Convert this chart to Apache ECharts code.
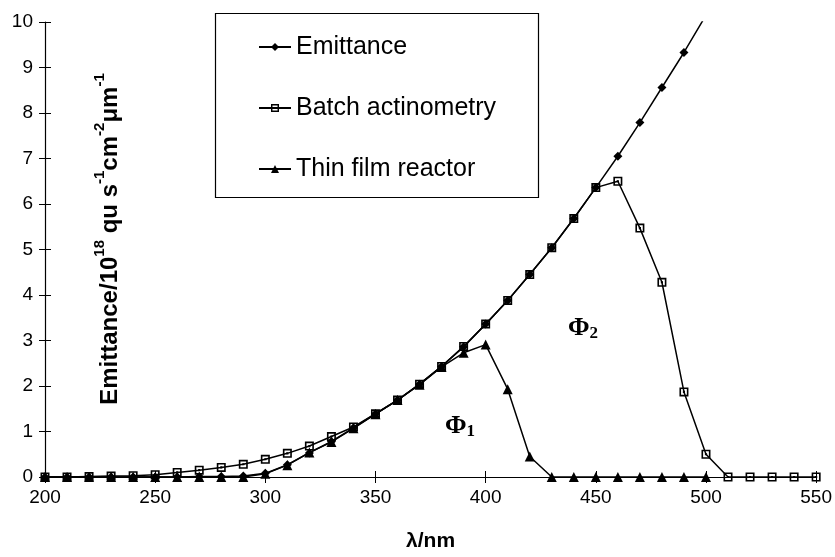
<!DOCTYPE html>
<html>
<head>
<meta charset="utf-8">
<script src="https://cdn.jsdelivr.net/npm/echarts@6/dist/echarts.min.js"></script>
<style>html,body{margin:0;padding:0;background:#fff;}#c{width:835px;height:557px;}</style>
</head>
<body>
<div id="c"></div>
<script>
// wavelengths (nm)
const wavelengths = [200,210,220,230,240,250,260,270,280,290,300,310,320,330,340,350,360,370,380,390,400,410,420,430,440,450,460,470,480,490,500,510,520,530,540,550];
// Emittance (200..500)
const emittance = [0,0,0,0,0,0,0,0.01,0.01,0.02,0.08,0.27,0.53,0.78,1.08,1.39,1.69,2.04,2.43,2.86,3.36,3.88,4.45,5.04,5.68,6.36,7.05,7.79,8.56,9.33,10.15];
// Batch actinometry (200..550)
const batch = [0,0,0.01,0.02,0.03,0.05,0.1,0.15,0.21,0.28,0.39,0.52,0.68,0.89,1.1,1.39,1.69,2.04,2.43,2.87,3.36,3.88,4.45,5.04,5.68,6.36,6.5,5.47,4.28,1.87,0.5,0,0,0,0,0];
// Thin film reactor (200..500)
const thinFilm = [0,0,0,0,0,0,0,0,0,0,0.07,0.26,0.54,0.77,1.07,1.38,1.69,2.03,2.42,2.73,2.91,1.93,0.45,0,0,0,0,0,0,0,0];
const seriesNames = ['Emittance','Batch actinometry','Thin film reactor'];
const xTicks = {min:200, max:550, interval:50};
const yTicks = {min:0, max:10, interval:1};

function pairs(vals){ return vals.map((v,i)=>[wavelengths[i], v]); }

const font = 'Liberation Sans, Arial, sans-serif';
const serif = 'Liberation Serif, Times New Roman, serif';
const chart = echarts.init(document.getElementById('c'), null, {renderer:'canvas'});
const squareDot = 'path://M0 0H10V10H0Z M1.8 1.8V8.2H8.2V1.8Z M3.8 3.8H6.2V6.2H3.8Z';

const baseX = {type:'value', min:xTicks.min, max:xTicks.max, interval:xTicks.interval, splitLine:{show:false}};
const baseY = {type:'value', min:yTicks.min, max:yTicks.max, interval:yTicks.interval, splitLine:{show:false}};

chart.setOption({
  backgroundColor:'#fff',
  animation:false,
  grid:{left:45, right:18, top:22, bottom:74, containLabel:false},
  xAxis:[
    Object.assign({}, baseX, {
      position:'bottom',
      name:'λ/nm', nameLocation:'middle', nameGap:54,
      nameTextStyle:{fontFamily:font, fontSize:21, fontWeight:'bold', color:'#000'},
      axisLine:{show:true, onZero:false, lineStyle:{color:'#000', width:1.2}},
      axisTick:{show:true, inside:false, length:6, lineStyle:{color:'#000'}},
      axisLabel:{fontFamily:font, fontSize:19, color:'#000', margin:11}
    }),
    Object.assign({}, baseX, {
      position:'bottom', offset:0,
      axisLine:{show:false}, axisLabel:{show:false},
      axisTick:{show:true, inside:true, length:6, lineStyle:{color:'#000'}}
    })
  ],
  yAxis:[
    Object.assign({}, baseY, {
      position:'left',
      axisLine:{show:true, onZero:false, lineStyle:{color:'#000', width:1.2}},
      axisTick:{show:true, inside:false, length:6, lineStyle:{color:'#000'}},
      axisLabel:{fontFamily:font, fontSize:19, color:'#000', margin:12}
    }),
    Object.assign({}, baseY, {
      position:'left', offset:0,
      axisLine:{show:false}, axisLabel:{show:false},
      axisTick:{show:true, inside:true, length:6, lineStyle:{color:'#000'}}
    })
  ],
  legend:{
    orient:'vertical', left:258, top:34, padding:0, itemGap:35,
    itemWidth:32, itemHeight:10,
    textStyle:{fontFamily:font, fontSize:25, color:'#000', lineHeight:26},
    data:seriesNames
  },
  series:[
    {name:seriesNames[0], type:'line', data:pairs(emittance), symbol:'diamond', symbolSize:9,
     showAllSymbol:true, itemStyle:{color:'#000'}, lineStyle:{color:'#000', width:1.5}, z:3},
    {name:seriesNames[1], type:'line', data:pairs(batch), symbol:squareDot, symbolSize:9,
     showAllSymbol:true, itemStyle:{color:'#000'}, lineStyle:{color:'#000', width:1.5}, z:4},
    {name:seriesNames[2], type:'line', data:pairs(thinFilm), symbol:'triangle', symbolSize:10,
     showAllSymbol:true, itemStyle:{color:'#000'}, lineStyle:{color:'#000', width:1.5}, z:2}
  ],
  graphic:[
    {type:'rect', z:-1, shape:{x:215.5, y:13.5, width:323, height:184},
     style:{fill:'#fff', stroke:'#000', lineWidth:1.2}},
    {type:'text', x:107, y:239, rotation:Math.PI/2,
     style:{
       text:'{m|Emittance/10}{s|18}{m| qu s}{s|-1}{m|cm}{s|-2}{m|μm}{s|-1}',
       align:'center', verticalAlign:'middle',
       rich:{
         m:{fontFamily:font, fontSize:24, fontWeight:'bold', fill:'#000', lineHeight:30, verticalAlign:'bottom'},
         s:{fontFamily:font, fontSize:15, fontWeight:'bold', fill:'#000', lineHeight:15, verticalAlign:'top'}
       }
     }},
    {type:'text', x:445, y:426,
     style:{
       text:'{p|Φ}{s|1}', align:'left', verticalAlign:'middle',
       rich:{
         p:{fontFamily:serif, fontSize:26, fontWeight:'bold', fill:'#000', lineHeight:28},
         s:{fontFamily:serif, fontSize:17, fontWeight:'bold', fill:'#000', lineHeight:15, verticalAlign:'bottom'}
       }
     }},
    {type:'text', x:568, y:328,
     style:{
       text:'{p|Φ}{s|2}', align:'left', verticalAlign:'middle',
       rich:{
         p:{fontFamily:serif, fontSize:26, fontWeight:'bold', fill:'#000', lineHeight:28},
         s:{fontFamily:serif, fontSize:17, fontWeight:'bold', fill:'#000', lineHeight:15, verticalAlign:'bottom'}
       }
     }}
  ]
});
</script>
</body>
</html>
